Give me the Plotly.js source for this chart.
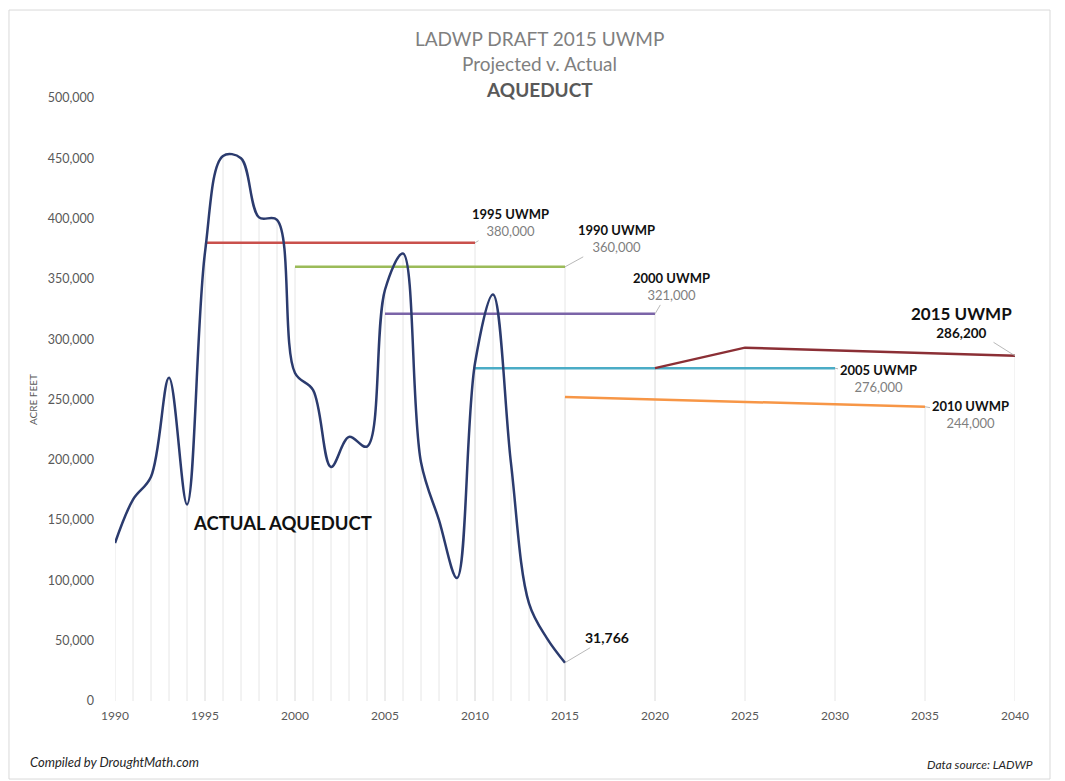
<!DOCTYPE html>
<html>
<head>
<meta charset="utf-8">
<script src="https://cdn.plot.ly/plotly-3.0.1.min.js"></script>
<style>
html,body{margin:0;padding:0;background:#fff;}
#chart{width:1065px;height:781px;}
</style>
</head>
<body>
<div id="chart"></div>
<script>
// ---- data ----
const actualYears = [1990,1991,1992,1993,1994,1995,1996,1997,1998,1999,2000,2001,2002,2003,2004,2005,2006,2007,2008,2009,2010,2011,2012,2013,2014,2015];
const actualValues = [131000,167000,186000,268000,163000,372000,452000,450000,401000,399000,272000,258000,194000,219000,211000,341000,371000,198000,150000,102000,280000,337000,197000,81000,52000,31766];

const uwmp1995Years = [1995, 2010];
const uwmp1995Values = [380000, 380000];
const uwmp1990Years = [2000, 2015];
const uwmp1990Values = [360000, 360000];
const uwmp2000Years = [2005, 2020];
const uwmp2000Values = [321000, 321000];
const uwmp2005Years = [2010, 2030];
const uwmp2005Values = [276000, 276000];
const uwmp2010Years = [2015, 2035];
const uwmp2010Values = [252000, 244000];
const uwmp2015Years = [2020, 2025, 2040];
const uwmp2015Values = [276000, 293000, 286200];

const xTicks = [1990,1995,2000,2005,2010,2015,2020,2025,2030,2035,2040];
const yTicks = [0,50000,100000,150000,200000,250000,300000,350000,400000,450000,500000];

// ---- styling ----
const FONT = 'Lato, "Open Sans", sans-serif';
const series = [
  {x: uwmp1995Years, y: uwmp1995Values, color: '#c9504c', name: '1995 UWMP'},
  {x: uwmp1990Years, y: uwmp1990Values, color: '#9bbb59', name: '1990 UWMP'},
  {x: uwmp2000Years, y: uwmp2000Values, color: '#7b64a8', name: '2000 UWMP'},
  {x: uwmp2005Years, y: uwmp2005Values, color: '#4bacc6', name: '2005 UWMP'},
  {x: uwmp2010Years, y: uwmp2010Values, color: '#f79646', name: '2010 UWMP'},
  {x: uwmp2015Years, y: uwmp2015Values, color: '#8b2f35', name: '2015 UWMP'}
];

const traces = series.map(s => ({
  x: s.x, y: s.y, type: 'scatter', mode: 'lines', name: s.name,
  line: {color: s.color, width: 2.5}, hoverinfo: 'x+y'
}));
traces.push({
  x: actualYears, y: actualValues, type: 'scatter', mode: 'lines', name: 'Actual',
  line: {color: '#2b3b6e', width: 2.5, shape: 'spline', smoothing: 1}, hoverinfo: 'x+y'
});

// drop lines (from each point down to the axis)
const shapes = [];
function addDrops(xs, ys) {
  xs.forEach((xv, i) => {
    shapes.push({type: 'line', xref: 'x', yref: 'y', x0: xv, x1: xv, y0: 0, y1: ys[i],
      line: {color: '#e6e6e6', width: 1}, layer: 'below'});
  });
}
addDrops(actualYears, actualValues);
series.forEach(s => addDrops(s.x, s.y));

// outer border
shapes.push({type: 'rect', xref: 'paper', yref: 'paper',
  x0: -0.1178, x1: 1.0389, y0: -0.1294, y1: 1.1459,
  line: {color: '#d9d9d9', width: 1}, fillcolor: 'rgba(0,0,0,0)', layer: 'below'});

function fmt(v) { return v.toLocaleString('en-US'); }
function label(name, val, ax, ay, xv, yv) {
  return {
    x: xv, y: yv, xref: 'x', yref: 'y',
    text: '<b>' + name + '</b><br><span style="color:#7f7f7f">' + fmt(val) + '</span>',
    showarrow: true, arrowhead: 0, arrowwidth: 0.8, arrowcolor: '#a6a6a6',
    ax: ax, ay: ay, align: 'center',
    font: {family: FONT, size: 13, color: '#111'}
  };
}
const last = a => a[a.length - 1];
function txt(text, x, y, size, color, extra) {
  return Object.assign({text: text, xref: 'paper', yref: 'paper', x: x, y: y,
    xanchor: 'center', yanchor: 'middle', showarrow: false,
    font: {family: FONT, size: size, color: color}}, extra || {});
}

const annotations = [
  txt('LADWP DRAFT 2015 UWMP', 0.472, 1.0995, 19, '#7f7f7f'),
  txt('Projected v. Actual', 0.472, 1.058, 19, '#7f7f7f'),
  txt('<b>AQUEDUCT</b>', 0.472, 1.0133, 19, '#595959'),
  txt('ACRE FEET', -0.0911, 0.499, 10, '#595959', {textangle: -90}),
  txt('<b>ACTUAL AQUEDUCT</b>', 0.1856, 0.2952, 18.5, '#111'),
  txt('<i>Compiled by DroughtMath.com</i>', -0.0967, -0.101, 13, '#262626', {xanchor: 'left'}),
  txt('<i>Data source: LADWP</i>', 1.0222, -0.106, 12, '#262626', {xanchor: 'right'}),
  label('1995 UWMP', last(uwmp1995Values), 35, -20, last(uwmp1995Years), last(uwmp1995Values)),
  label('1990 UWMP', last(uwmp1990Values), 51, -28, last(uwmp1990Years), last(uwmp1990Values)),
  label('2000 UWMP', last(uwmp2000Values), 16, -27, last(uwmp2000Years), last(uwmp2000Values)),
  label('2005 UWMP', last(uwmp2005Values), 43, 10, last(uwmp2005Years), last(uwmp2005Values)),
  label('2010 UWMP', last(uwmp2010Values), 45, 8, last(uwmp2010Years), last(uwmp2010Values)),
  {x: last(uwmp2015Years), y: last(uwmp2015Values), xref: 'x', yref: 'y',
   text: '<span style="font-size:17px">2015 UWMP</span><br>' + fmt(last(uwmp2015Values)),
   showarrow: true, arrowhead: 0, arrowwidth: 0.8, arrowcolor: '#a6a6a6', ax: -54, ay: -34,
   align: 'center', font: {family: FONT, size: 13.5, color: '#111', weight: 'bold'}},
  {x: last(actualYears), y: last(actualValues), xref: 'x', yref: 'y',
   text: '<b>' + fmt(last(actualValues)) + '</b>',
   showarrow: true, arrowhead: 0, arrowwidth: 0.8, arrowcolor: '#a6a6a6', ax: 42, ay: -25,
   font: {family: FONT, size: 14, color: '#111'}}
];

const layout = {
  width: 1065, height: 781,
  margin: {l: 115, r: 50, t: 98, b: 80},
  paper_bgcolor: '#ffffff', plot_bgcolor: '#ffffff',
  showlegend: false,
  xaxis: {range: [1990, 2040], tickvals: xTicks, ticktext: xTicks.map(String),
    showgrid: false, zeroline: false, showline: false, ticks: '',
    ticklabelstandoff: 6, tickfont: {family: FONT, size: 12, color: '#595959'}, fixedrange: true},
  yaxis: {range: [0, 500000], tickvals: yTicks, ticktext: yTicks.map(fmt),
    showgrid: false, zeroline: false, showline: false, ticks: '',
    ticklabelstandoff: 20, tickfont: {family: FONT, size: 12.5, color: '#595959'}, fixedrange: true},
  shapes: shapes,
  annotations: annotations
};

Plotly.newPlot('chart', traces, layout, {displayModeBar: false, staticPlot: true});
</script>
</body>
</html>
